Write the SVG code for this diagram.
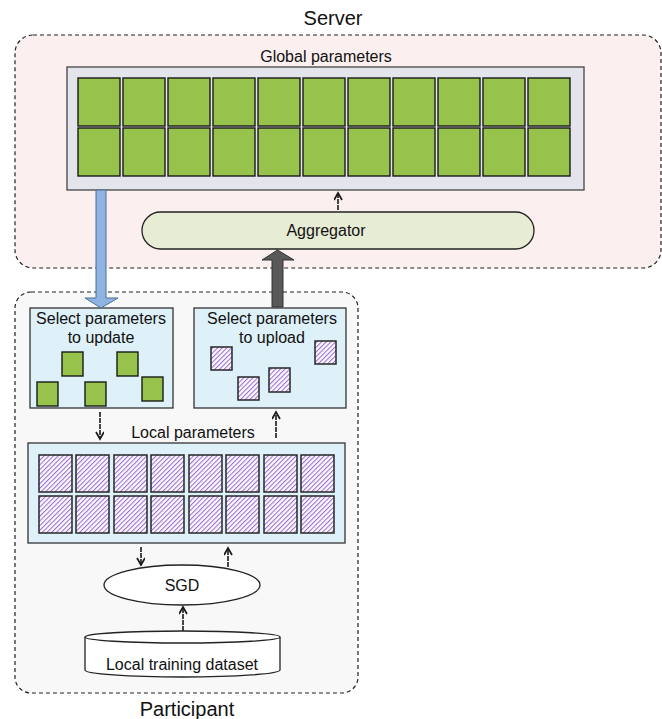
<svg xmlns="http://www.w3.org/2000/svg" width="662" height="719" viewBox="0 0 662 719">
<style>
text{font-family:"Liberation Sans",Arial,sans-serif;fill:#111;text-anchor:middle}
.title{font-size:20px}
.lbl{font-size:16px}
.dash{stroke:#222;stroke-width:1.2;stroke-dasharray:4 3}
.g{fill:#97c24c;stroke:#1a1a1a;stroke-width:1.4}
.h{fill:url(#hatch);stroke:#262626;stroke-width:1.5}
.box{fill:#def0f8;stroke:#333;stroke-width:1.3}
.sm{stroke:#1a1a1a;stroke-width:1.6;fill:none;stroke-dasharray:5 1;marker-end:url(#ah)}
</style>
<defs>
<pattern id="hatch" patternUnits="userSpaceOnUse" width="3.3" height="3.3" patternTransform="rotate(45)">
<rect width="3.3" height="3.3" fill="#fbf9fd"/>
<line x1="0.5" y1="0" x2="0.5" y2="3.3" stroke="#9a68d0" stroke-width="1"/>
</pattern>
<marker id="ah" markerWidth="10" markerHeight="10" refX="8" refY="4" orient="auto" markerUnits="userSpaceOnUse">
<path d="M1,0 L8,4 L1,8" fill="none" stroke="#1a1a1a" stroke-width="1.7"/>
</marker>
</defs>

<g id="server">
<rect x="15" y="35" width="646" height="233" rx="18" fill="#fbf0ef" class="dash"/>
<text class="title" x="333" y="25">Server</text>
</g>

<g id="participant">
<rect x="15" y="292" width="343" height="401" rx="16" fill="#f8f8f8" class="dash"/>
<text class="title" x="187" y="716">Participant</text>
</g>

<g id="global-params">
<text class="lbl" x="326" y="62">Global parameters</text>
<rect x="67" y="67" width="517" height="123" fill="#e3e4ec" stroke="#444" stroke-width="1.3"/>
<rect class="g" x="78" y="78" width="42" height="48"/><rect class="g" x="123" y="78" width="42" height="48"/><rect class="g" x="168" y="78" width="42" height="48"/><rect class="g" x="213" y="78" width="42" height="48"/><rect class="g" x="258" y="78" width="42" height="48"/><rect class="g" x="303" y="78" width="42" height="48"/><rect class="g" x="348" y="78" width="42" height="48"/><rect class="g" x="393" y="78" width="42" height="48"/><rect class="g" x="438" y="78" width="42" height="48"/><rect class="g" x="483" y="78" width="42" height="48"/><rect class="g" x="528" y="78" width="42" height="48"/>
<rect class="g" x="78" y="128" width="42" height="48"/><rect class="g" x="123" y="128" width="42" height="48"/><rect class="g" x="168" y="128" width="42" height="48"/><rect class="g" x="213" y="128" width="42" height="48"/><rect class="g" x="258" y="128" width="42" height="48"/><rect class="g" x="303" y="128" width="42" height="48"/><rect class="g" x="348" y="128" width="42" height="48"/><rect class="g" x="393" y="128" width="42" height="48"/><rect class="g" x="438" y="128" width="42" height="48"/><rect class="g" x="483" y="128" width="42" height="48"/><rect class="g" x="528" y="128" width="42" height="48"/>
</g>

<g id="aggregator">
<rect x="142" y="212" width="392" height="37" rx="18.5" fill="#e7ecd4" stroke="#222" stroke-width="1.3"/>
<text class="lbl" x="326" y="236">Aggregator</text>
</g>

<g id="select-update">
<rect class="box" x="30" y="308" width="143" height="100"/>
<text class="lbl" x="101" y="324">Select parameters</text>
<text class="lbl" x="101" y="343">to update</text>
<rect class="g" x="62" y="352" width="21" height="24"/>
<rect class="g" x="117" y="352" width="21" height="24"/>
<rect class="g" x="37" y="382" width="21" height="24"/>
<rect class="g" x="85" y="382" width="21" height="24"/>
<rect class="g" x="142" y="377" width="21" height="24"/>
</g>

<g id="select-upload">
<rect class="box" x="194" y="308" width="152" height="100"/>
<text class="lbl" x="272" y="324">Select parameters</text>
<text class="lbl" x="272" y="343">to upload</text>
<rect class="h" x="211" y="347" width="21" height="23"/>
<rect class="h" x="315" y="341" width="21" height="23"/>
<rect class="h" x="238" y="377" width="21" height="23"/>
<rect class="h" x="269" y="368" width="21" height="24"/>
</g>

<g id="local-params">
<text class="lbl" x="193" y="438">Local parameters</text>
<rect class="box" x="28" y="443" width="317" height="100"/>
<rect class="h" x="39" y="455" width="33" height="37"/><rect class="h" x="76" y="455" width="33" height="37"/><rect class="h" x="114" y="455" width="33" height="37"/><rect class="h" x="151" y="455" width="33" height="37"/><rect class="h" x="189" y="455" width="33" height="37"/><rect class="h" x="226" y="455" width="33" height="37"/><rect class="h" x="264" y="455" width="33" height="37"/><rect class="h" x="301" y="455" width="33" height="37"/>
<rect class="h" x="39" y="496" width="33" height="37"/><rect class="h" x="76" y="496" width="33" height="37"/><rect class="h" x="114" y="496" width="33" height="37"/><rect class="h" x="151" y="496" width="33" height="37"/><rect class="h" x="189" y="496" width="33" height="37"/><rect class="h" x="226" y="496" width="33" height="37"/><rect class="h" x="264" y="496" width="33" height="37"/><rect class="h" x="301" y="496" width="33" height="37"/>
</g>

<g id="sgd">
<ellipse cx="182" cy="585" rx="78" ry="20" fill="#fff" stroke="#222" stroke-width="1.3"/>
<text class="lbl" x="182" y="591">SGD</text>
</g>

<g id="dataset">
<path d="M85,637 L85,670 A97.5,7 0 0 0 280,670 L280,637" fill="#fff" stroke="#222" stroke-width="1.3"/>
<ellipse cx="182.5" cy="637" rx="97.5" ry="6" fill="#fff" stroke="#222" stroke-width="1.3"/>
<text class="lbl" x="182" y="670">Local training dataset</text>
</g>

<g id="connectors">
<polygon points="96,190 106,190 106,298 118,298 101,308 85,298 96,298" fill="#8db4e2" stroke="#4f6f96" stroke-width="1"/>
<polygon points="272,307 283,307 283,260 294,260 277.5,250 262,260 272,260" fill="#595959" stroke="#333" stroke-width="1"/>
<line class="sm" x1="338" y1="210" x2="338" y2="193"/>
<line class="sm" x1="100" y1="412" x2="100" y2="439"/>
<line class="sm" x1="276" y1="438" x2="276" y2="412"/>
<line class="sm" x1="141" y1="547" x2="141" y2="565"/>
<line class="sm" x1="228" y1="567" x2="228" y2="548"/>
<line class="sm" x1="183" y1="631" x2="183" y2="607"/>
</g>
</svg>
